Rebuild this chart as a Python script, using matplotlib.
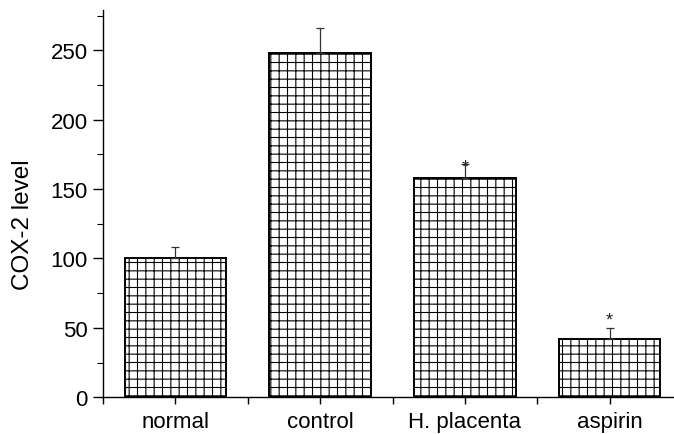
import numpy as np
import matplotlib
matplotlib.use('Agg')
import matplotlib.pyplot as plt
from matplotlib.ticker import MultipleLocator, FixedLocator

# data
groups = ['normal', 'control', 'H. placenta', 'aspirin']
cox2 = [100, 248, 158, 42]
err = [8, 18, 10, 8]
# asterisk (significance) marks, value height where the star sits
star_y = [None, None, 166, 56]

plt.rcParams['font.family'] = ['Liberation Sans', 'DejaVu Sans']
plt.rcParams['hatch.linewidth'] = 0.8
plt.rcParams['hatch.color'] = '#222222'

fig = plt.figure(figsize=(6.74, 4.35), dpi=100)
ax = fig.add_axes([103 / 674, 36.7 / 435, 579 / 674, 387.3 / 435])

x = np.arange(len(groups))
ax.bar(x, cox2, width=0.70, color='white', edgecolor='black',
       linewidth=1.4, hatch='++', zorder=2)
ax.errorbar(x, cox2, yerr=[np.zeros(len(err)), err], fmt='none',
            ecolor='#333333', elinewidth=0.9, capsize=2.9, capthick=0.9, zorder=3)
for i, s in enumerate(star_y):
    if s is not None:
        ax.text(x[i], s, '*', ha='center', va='center', fontsize=13, color='#222222', zorder=4)

ax.set_xlim(-0.5, 3.5)
ax.set_ylim(0, 279)
ax.set_xticks(x)
ax.set_xticklabels(groups, fontsize=16)
ax.xaxis.set_minor_locator(FixedLocator([-0.5, 0.5, 1.5, 2.5]))
ax.yaxis.set_major_locator(MultipleLocator(50))
ax.yaxis.set_minor_locator(MultipleLocator(25))
ax.tick_params(axis='y', which='major', direction='out', length=7, width=1, labelsize=16, pad=4)
ax.tick_params(axis='y', which='minor', direction='out', length=4, width=0.8)
ax.tick_params(axis='x', which='both', direction='out', length=5, width=1, pad=5)
ax.set_ylabel('COX-2 level', fontsize=17.5)
ax.yaxis.set_label_coords(-0.119, 0.447)

ax.spines['top'].set_visible(False)
ax.spines['right'].set_visible(False)
ax.spines['left'].set_linewidth(1.0)
ax.spines['bottom'].set_linewidth(1.0)

fig.savefig('out.png', dpi=100)
